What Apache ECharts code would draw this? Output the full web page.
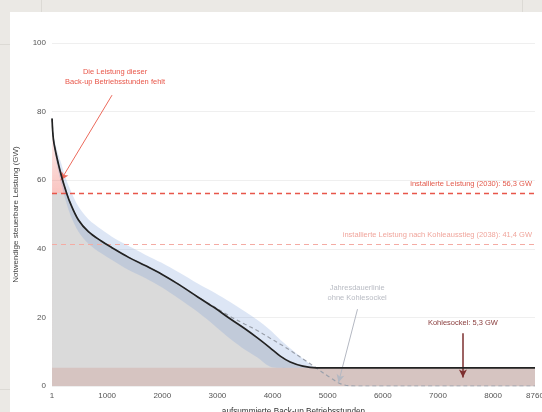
<!DOCTYPE html>
<html>
<head>
<meta charset="utf-8">
<script src="https://cdn.jsdelivr.net/npm/echarts@6/dist/echarts.min.js"></script>
<style>
  html, body { margin: 0; padding: 0; }
  body { width: 542px; height: 412px; background: #ebe9e5; position: relative; overflow: hidden; }
  .card { position: absolute; left: 10px; top: 12px; width: 532px; height: 400px; background: #fff; }
  .vl { position: absolute; top: 0; width: 1px; height: 12px; background: #dcdad5; }
  .hl { position: absolute; left: 0; width: 10px; height: 1px; background: #dcdad5; }
  #chart { position: absolute; left: 0; top: 0; width: 542px; height: 412px; }
</style>
</head>
<body>
<div class="vl" style="left:41px"></div>
<div class="vl" style="left:522px"></div>
<div class="hl" style="top:44px"></div>
<div class="hl" style="top:389px"></div>
<div class="card"></div>
<div id="chart"></div>
<script>
// aufsummierte Betriebsstunden (x)
const hours = [1, 25, 70, 115, 175, 240, 330, 480, 660, 900, 1080, 1390, 1690, 1990, 2290, 2650, 2950, 3230, 3500, 3720, 3950, 4140, 4320, 4550, 4790, 5050, 5260, 5500, 6000, 7000, 8000, 8760]
// Jahresdauerlinie mit Kohlesockel (schwarz)
const withCoal = [78, 72, 68, 64.8, 61, 57.5, 53.4, 48.4, 45.0, 42.2, 40.4, 37.5, 35.1, 32.6, 29.7, 25.9, 22.8, 19.6, 16.7, 14.1, 11.2, 8.7, 7.0, 5.8, 5.3, 5.3, 5.3, 5.3, 5.3, 5.3, 5.3, 5.3]
// Jahresdauerlinie ohne Kohlesockel (gestrichelt)
const withoutCoal = [78, 72, 68, 64.8, 61, 57.5, 53.4, 48.4, 45.0, 42.2, 40.4, 37.5, 35.1, 32.6, 29.7, 25.9, 23.0, 20.3, 18.0, 16.2, 14.0, 12.2, 10.4, 7.9, 5.3, 2.4, 0.5, 0, 0, 0, 0, 0]
// Unsicherheitsband
const bandHigh = [78, 73.5, 70, 67.5, 64.5, 61, 57.3, 52.3, 48.6, 45.6, 43.6, 40.8, 38.3, 35.9, 33.2, 29.8, 27.2, 24.5, 21.7, 19.3, 16.4, 13.5, 11.0, 8.0, 5.3, 5.3, 5.3, 5.3, 5.3, 5.3, 5.3, 5.3]
const bandLow = [78, 70.5, 66, 62.5, 58.5, 54.5, 50, 45, 41.5, 38.6, 36.8, 33.8, 31.5, 28.8, 25.6, 21.5, 17.6, 13.8, 10.6, 8.4, 5.7, 5.3, 5.3, 5.3, 5.3, 5.3, 5.3, 5.3, 5.3, 5.3, 5.3, 5.3]

const capacity2030 = 56.3
const capacity2038 = 41.4
const coalBase = 5.3
const xTicks = [1, 1000, 2000, 3000, 4000, 5000, 6000, 7000, 8000, 8760]

const FONT = 'Liberation Sans, Arial, sans-serif'
const SMOOTH = 0.35

const pair = arr => hours.map((h, i) => [h, arr[i]])

const chart = echarts.init(document.getElementById('chart'))

// Band als ein Polygon (oben hin, unten zurück)
const renderBand = (params, api) => {
  if (params.dataIndex !== 0) return null
  const upper = hours.map((h, i) => api.coord([h, bandHigh[i]]))
  const lower = hours.map((h, i) => api.coord([h, bandLow[i]])).reverse()
  return {
    type: 'polygon',
    shape: { points: upper.concat(lower), smooth: 0.3 },
    style: { fill: 'rgba(125,160,215,0.26)' }
  }
}

const option = {
  animation: false,
  textStyle: { fontFamily: FONT },
  grid: { left: 52, right: 7, top: 43, bottom: 26, containLabel: false, outerBoundsMode: 'none' },
  xAxis: {
    type: 'value',
    min: 0,
    max: 8760,
    name: 'aufsummierte Back-up Betriebsstunden',
    nameLocation: 'middle',
    nameGap: 22,
    nameTextStyle: { color: '#333', fontSize: 8.2, fontFamily: FONT },
    axisLine: { show: false },
    axisTick: { show: false },
    splitLine: { show: false },
    axisLabel: {
      customValues: xTicks,
      formatter: v => String(v),
      color: '#555',
      fontSize: 8,
      margin: 6,
      fontFamily: FONT
    }
  },
  yAxis: {
    type: 'value',
    min: 0,
    max: 100,
    interval: 20,
    name: 'Notwendige steuerbare Leistung (GW)',
    nameLocation: 'middle',
    nameGap: 32,
    nameTextStyle: { color: '#444', fontSize: 8, fontFamily: FONT },
    axisLine: { show: false },
    axisTick: { show: false },
    axisLabel: { color: '#555', fontSize: 8, margin: 6, fontFamily: FONT },
    splitLine: { lineStyle: { color: '#efefef', width: 1 } }
  },
  series: [
    {
      // fehlende Leistung oberhalb der installierten Leistung
      name: 'fehlt',
      type: 'line',
      z: 1,
      data: pair(withCoal),
      smooth: SMOOTH,
      symbol: 'none',
      lineStyle: { width: 0 },
      areaStyle: {
        opacity: 1,
        color: new echarts.graphic.LinearGradient(0, 0, 0, 1, [
          { offset: 0, color: 'rgba(240,110,100,0)' },
          { offset: 0.12, color: 'rgba(240,110,100,0.2)' },
          { offset: 0.29, color: 'rgba(240,110,100,0.42)' },
          { offset: 1, color: 'rgba(240,110,100,0.42)' }
        ])
      }
    },
    {
      name: 'gedeckt',
      type: 'line',
      z: 1,
      data: pair(withCoal.map(v => Math.min(v, capacity2030))),
      smooth: SMOOTH,
      symbol: 'none',
      lineStyle: { width: 0 },
      areaStyle: { color: '#dadada', opacity: 1 }
    },
    {
      name: 'Kohlesockel',
      type: 'line',
      z: 2,
      data: [[0, coalBase], [8760, coalBase]],
      symbol: 'none',
      lineStyle: { width: 0 },
      areaStyle: { color: '#d6c4c1', opacity: 1 }
    },
    {
      name: 'band',
      type: 'custom',
      z: 3,
      renderItem: renderBand,
      data: hours.map((h, i) => [h, bandLow[i], bandHigh[i]]),
      encode: { x: 0, y: [1, 2] },
      silent: true
    },
    {
      name: 'ohne Kohlesockel',
      type: 'line',
      z: 4,
      data: pair(withoutCoal),
      smooth: SMOOTH,
      symbol: 'none',
      lineStyle: { color: '#9aa0ab', width: 1.2, type: [4, 3] },
      markLine: {
        silent: true,
        symbol: ['none', 'arrow'],
        symbolSize: [6, 8],
        label: { show: false },
        data: [
          [{ coord: [1089, 84.8], lineStyle: { color: '#ec6a5c', width: 1, type: 'solid' } }, { coord: [160, 60] }],
          [{ coord: [5541, 22.4], lineStyle: { color: '#b4b8c2', width: 1, type: 'solid' } }, { coord: [5196, 1] }],
          [{ coord: [7453, 15.4], lineStyle: { color: '#7d2f2f', width: 1.5, type: 'solid' } }, { coord: [7453, 2.5] }]
        ]
      },
      markPoint: {
        silent: true,
        symbol: 'circle',
        symbolSize: 1,
        itemStyle: { color: 'rgba(0,0,0,0)' },
        label: { show: true, position: 'inside', fontSize: 7.5, lineHeight: 10, fontFamily: FONT },
        data: [
          { coord: [1143, 90], label: { formatter: 'Die Leistung dieser\nBack-up Betriebsstunden fehlt', color: '#e8574a' } },
          { coord: [5535, 27], label: { formatter: 'Jahresdauerlinie\nohne Kohlesockel', color: '#b9bcc4' } },
          { coord: [7453, 18.3], label: { formatter: 'Kohlesockel: 5,3 GW', color: '#8a3d3d' } }
        ]
      }
    },
    {
      name: 'mit Kohlesockel',
      type: 'line',
      z: 5,
      data: pair(withCoal),
      smooth: SMOOTH,
      symbol: 'none',
      lineStyle: { color: '#222', width: 1.7 },
      markLine: {
        silent: true,
        symbol: ['none', 'none'],
        data: [
          {
            yAxis: capacity2030,
            lineStyle: { color: '#e8564a', width: 1.3, type: [5, 4] },
            label: { position: 'insideEndTop', formatter: 'installierte Leistung (2030): 56,3 GW', color: '#e25a4c', fontSize: 7.5, distance: [3, 5], fontFamily: FONT }
          },
          {
            yAxis: capacity2038,
            lineStyle: { color: '#f4aba3', width: 1.2, type: [5, 4] },
            label: { position: 'insideEndTop', formatter: 'installierte Leistung nach Kohleausstieg (2038): 41,4 GW', color: '#f0a69d', fontSize: 7.5, distance: [3, 5], fontFamily: FONT }
          }
        ]
      }
    }
  ]
}

chart.setOption(option)
</script>
</body>
</html>
